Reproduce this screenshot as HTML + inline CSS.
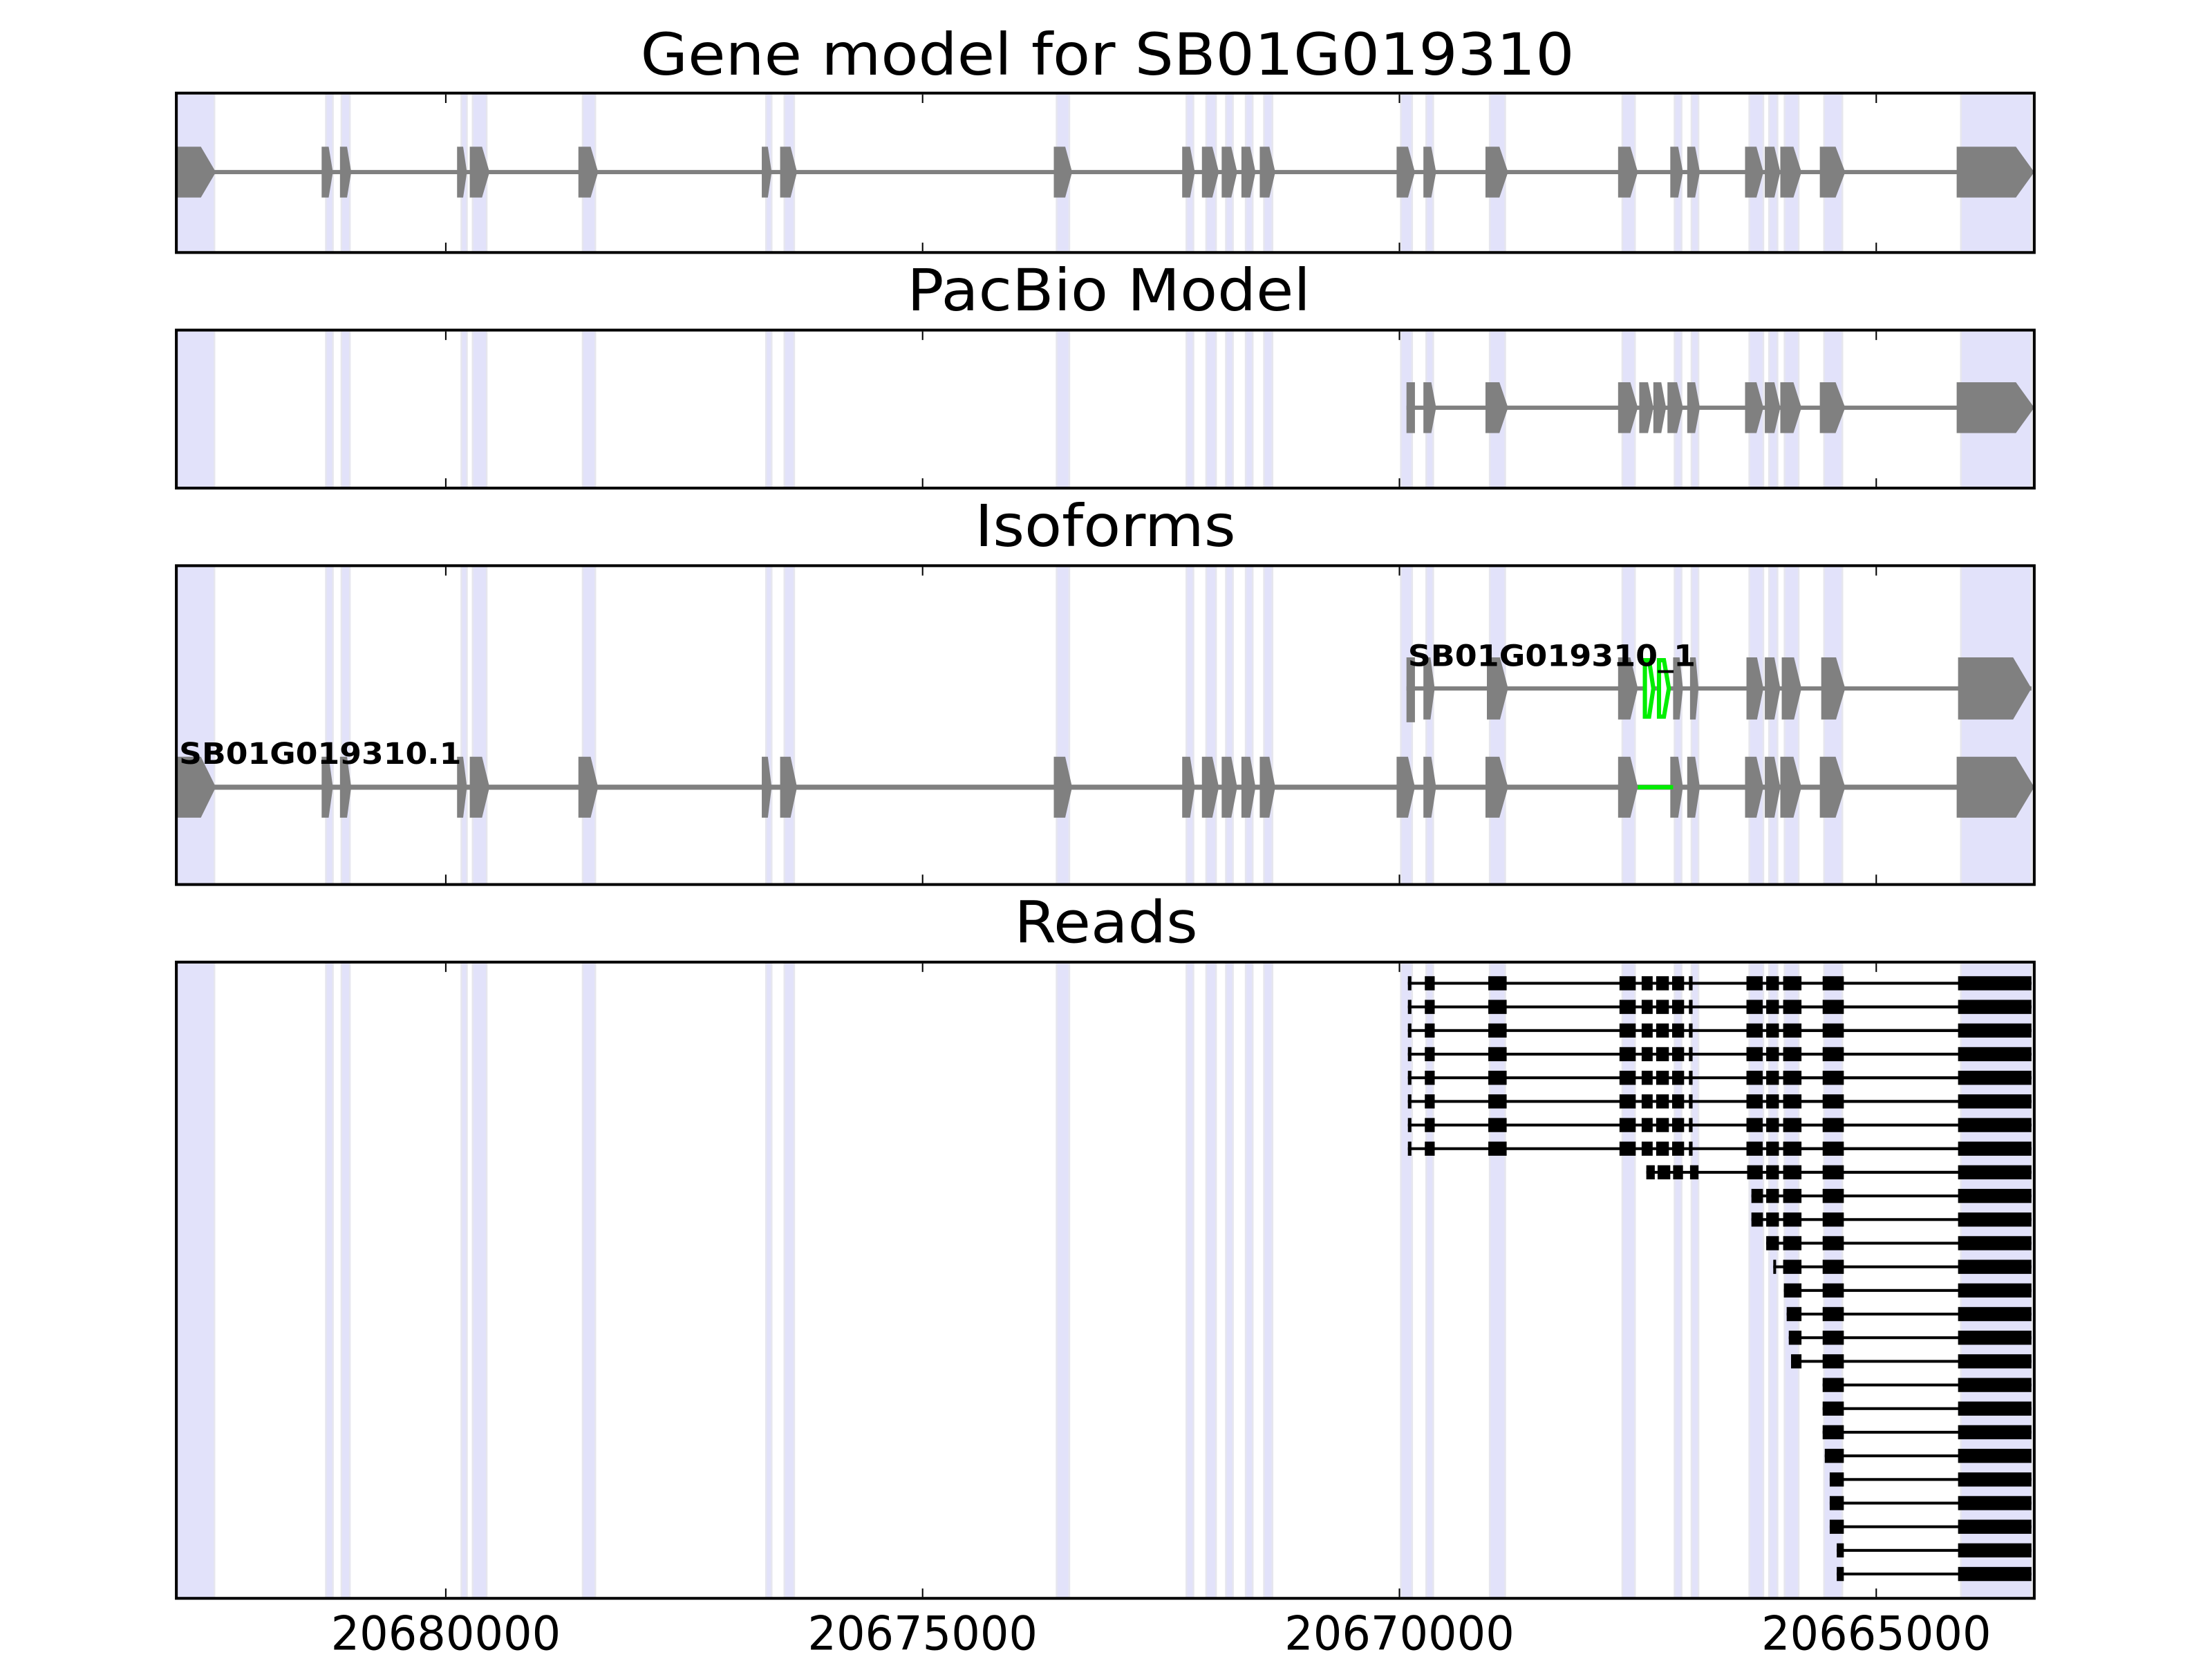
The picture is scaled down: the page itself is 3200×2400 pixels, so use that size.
<!DOCTYPE html>
<html><head><meta charset="utf-8"><style>
html,body{margin:0;padding:0;background:#fff;}
svg{display:block;}
text{font-family:"DejaVu Sans","Liberation Sans",sans-serif;fill:#000;}
</style></head><body>
<svg width="3200" height="2400" viewBox="0 0 1568 1176" xmlns="http://www.w3.org/2000/svg">
<defs>
<g id="bands" fill="#e2e2fa" stroke="#e6e6ee" stroke-width="1.2">
<rect x="125" y="0" width="27" height="1200"/>
<rect x="231" y="0" width="5" height="1200"/>
<rect x="242" y="0" width="6" height="1200"/>
<rect x="327" y="0" width="4" height="1200"/>
<rect x="335" y="0" width="10" height="1200"/>
<rect x="413" y="0" width="9" height="1200"/>
<rect x="543" y="0" width="4" height="1200"/>
<rect x="556" y="0" width="7" height="1200"/>
<rect x="749" y="0" width="9" height="1200"/>
<rect x="841" y="0" width="5" height="1200"/>
<rect x="855" y="0" width="7" height="1200"/>
<rect x="869" y="0" width="5" height="1200"/>
<rect x="883" y="0" width="5" height="1200"/>
<rect x="896" y="0" width="6" height="1200"/>
<rect x="993" y="0" width="8" height="1200"/>
<rect x="1011" y="0" width="5" height="1200"/>
<rect x="1056" y="0" width="11" height="1200"/>
<rect x="1150" y="0" width="9" height="1200"/>
<rect x="1187" y="0" width="5" height="1200"/>
<rect x="1199" y="0" width="5" height="1200"/>
<rect x="1240" y="0" width="10" height="1200"/>
<rect x="1254" y="0" width="6" height="1200"/>
<rect x="1265" y="0" width="10" height="1200"/>
<rect x="1293" y="0" width="13" height="1200"/>
<rect x="1390" y="0" width="50" height="1200"/>
</g>
<clipPath id="c1"><rect x="126" y="67" width="1315" height="111"/></clipPath>
<clipPath id="c2"><rect x="126" y="235" width="1315" height="110"/></clipPath>
<clipPath id="c3"><rect x="126" y="402" width="1315" height="224"/></clipPath>
<clipPath id="c4"><rect x="126" y="683" width="1315" height="449"/></clipPath>

<g id="gm">
<line x1="125" y1="0" x2="1442" y2="0" stroke="#808080" stroke-width="3"/>
<path fill="#808080" d="
M125 -18H142.4L153 0L142.4 18H125Z
M228 -18H233L236 0L233 18H228Z
M241 -18H246L249 0L246 18H241Z
M324 -18H328.3L331 0L328.3 18H324Z
M333 -18H341.7L347 0L341.7 18H333Z
M410 -18H418.7L424 0L418.7 18H410Z
M540 -18H544.3L547 0L544.3 18H540Z
M553 -18H560.4L565 0L560.4 18H553Z
M747 -18H755.1L760 0L755.1 18H747Z
M838 -18H843.6L847 0L843.6 18H838Z
M852 -18H859.4L864 0L859.4 18H852Z
M866 -18H872.8L877 0L872.8 18H866Z
M880 -18H886.2L890 0L886.2 18H880Z
M893 -18H899.8L904 0L899.8 18H893Z
M990 -18H998.1L1003 0L998.1 18H990Z
M1009 -18H1014.6L1018 0L1014.6 18H1009Z
M1053 -18H1062.9L1069 0L1062.9 18H1053Z
M1147 -18H1155.7L1161 0L1155.7 18H1147Z
M1184 -18H1189.6L1193 0L1189.6 18H1184Z
M1196 -18H1201.6L1205 0L1201.6 18H1196Z
M1237 -18H1245.1L1250 0L1245.1 18H1237Z
M1251 -18H1257.8L1262 0L1257.8 18H1251Z
M1262 -18H1271.3L1277 0L1271.3 18H1262Z
M1290 -18H1301.2L1308 0L1301.2 18H1290Z
M1387 -18H1429L1442 0L1429 18H1387Z"/>
</g>

<g id="tail">
<rect x="1292" y="-5" width="15" height="10"/>
<rect x="1388" y="-5" width="52" height="10"/>
<rect x="1292" y="-1" width="148" height="2"/>
</g>
<g id="mid">
<rect x="1252" y="-5" width="9" height="10"/>
<rect x="1264" y="-5" width="13" height="10"/>
<rect x="1252" y="-1" width="40" height="2"/>
</g>
<g id="full">
<rect x="998" y="-1" width="442" height="2"/>
<rect x="998" y="-5" width="2.5" height="10"/>
<rect x="1010" y="-5" width="7" height="10"/>
<rect x="1055" y="-5" width="13" height="10"/>
<rect x="1148" y="-5" width="11.5" height="10"/>
<rect x="1163.7" y="-5" width="7.8" height="10"/>
<rect x="1174" y="-5" width="9" height="10"/>
<rect x="1185.3" y="-5" width="8.5" height="10"/>
<rect x="1197.2" y="-5" width="2.6" height="10"/>
<rect x="1238" y="-5" width="11.5" height="10"/>
<use href="#mid"/>
<use href="#tail"/>
</g>
</defs>

<!-- Titles -->
<text x="785" y="53" font-size="41" text-anchor="middle" textLength="662" lengthAdjust="spacingAndGlyphs">Gene model for SB01G019310</text>
<text x="786" y="220" font-size="41" text-anchor="middle" textLength="286" lengthAdjust="spacingAndGlyphs">PacBio Model</text>
<text x="783.5" y="387" font-size="41" text-anchor="middle" textLength="185" lengthAdjust="spacingAndGlyphs">Isoforms</text>
<text x="784" y="668" font-size="41" text-anchor="middle" textLength="130" lengthAdjust="spacingAndGlyphs">Reads</text>

<!-- Panel 1 -->
<use href="#bands" clip-path="url(#c1)"/>
<use href="#gm" transform="translate(0,122)"/>

<!-- Panel 2 -->
<use href="#bands" clip-path="url(#c2)"/>
<g transform="translate(0,289)">
<line x1="997" y1="0" x2="1442" y2="0" stroke="#808080" stroke-width="3"/>
<path fill="#808080" d="
M997 -18H1003V18H997Z
M1009 -18H1014.6L1018 0L1014.6 18H1009Z
M1053 -18H1062.9L1069 0L1062.9 18H1053Z
M1147 -18H1155.7L1161 0L1155.7 18H1147Z
M1162 -18H1168.2L1172 0L1168.2 18H1162Z
M1172 -18H1177.6L1181 0L1177.6 18H1172Z
M1182 -18H1188.8L1193 0L1188.8 18H1182Z
M1196 -18H1201.6L1205 0L1201.6 18H1196Z
M1237 -18H1245.1L1250 0L1245.1 18H1237Z
M1251 -18H1257.8L1262 0L1257.8 18H1251Z
M1262 -18H1271.3L1277 0L1271.3 18H1262Z
M1290 -18H1301.2L1308 0L1301.2 18H1290Z
M1387 -18H1429L1442 0L1429 18H1387Z"/>
</g>

<!-- Panel 3 -->
<use href="#bands" clip-path="url(#c3)"/>
<g transform="translate(0,488)">
<line x1="997" y1="0" x2="1440" y2="0" stroke="#808080" stroke-width="3"/>
<path fill="#808080" d="
M997 -22H1003V24H997Z
M1009 -22H1014L1017 0L1014 22H1009Z
M1054 -22H1063.3L1069 0L1063.3 22H1054Z
M1147 -22H1155.7L1161 0L1155.7 22H1147Z
M1186 -22H1190.6L1193 0L1190.6 22H1186Z
M1198 -22H1202L1204 0L1202 22H1198Z
M1238 -22H1245.5L1250 0L1245.5 22H1238Z
M1251 -22H1257.8L1262 0L1257.8 22H1251Z
M1263 -22H1271.7L1277 0L1271.7 22H1263Z
M1291 -22H1301.5L1308 0L1301.5 22H1291Z
M1388 -22H1427L1440 0L1427 22H1388Z"/>
<path fill="#fff" stroke="#00ee00" stroke-width="3" d="M1166 -20H1169L1172 0L1169 20H1166Z M1176 -20H1179.5L1183 0L1179.5 20H1176Z"/>
</g>
<text x="998" y="472" font-size="21" font-weight="bold" textLength="204" lengthAdjust="spacingAndGlyphs">SB01G019310_1</text>
<use href="#gm" transform="translate(0,558) scale(1,1.2)"/>
<line x1="1161" y1="558" x2="1186" y2="558" stroke="#00ee00" stroke-width="3"/>
<text x="127" y="541.5" font-size="21" font-weight="bold" textLength="200" lengthAdjust="spacingAndGlyphs">SB01G019310.1</text>

<!-- Panel 4 -->
<use href="#bands" clip-path="url(#c4)"/>
<g fill="#000">
<use href="#full" transform="translate(0,697)"/>
<use href="#full" transform="translate(0,713.75)"/>
<use href="#full" transform="translate(0,730.5)"/>
<use href="#full" transform="translate(0,747.25)"/>
<use href="#full" transform="translate(0,764)"/>
<use href="#full" transform="translate(0,780.75)"/>
<use href="#full" transform="translate(0,797.5)"/>
<use href="#full" transform="translate(0,814.25)"/>
<g transform="translate(0,831)">
<rect x="1167" y="-1" width="273" height="2"/>
<rect x="1167" y="-5" width="6" height="10"/>
<rect x="1175" y="-5" width="9" height="10"/>
<rect x="1186" y="-5" width="7" height="10"/>
<rect x="1198" y="-5" width="6" height="10"/>
<rect x="1238.5" y="-5" width="11" height="10"/>
<use href="#mid"/><use href="#tail"/>
</g>
<g transform="translate(0,847.75)"><rect x="1241.5" y="-5" width="8.2" height="10"/><rect x="1241.5" y="-1" width="12" height="2"/><use href="#mid"/><use href="#tail"/></g>
<g transform="translate(0,864.5)"><rect x="1241.5" y="-5" width="8.2" height="10"/><rect x="1241.5" y="-1" width="12" height="2"/><use href="#mid"/><use href="#tail"/></g>
<g transform="translate(0,881.25)"><use href="#mid"/><use href="#tail"/></g>
<g transform="translate(0,898)"><rect x="1257" y="-5" width="2" height="10"/><rect x="1257" y="-1" width="35" height="2"/><rect x="1264" y="-5" width="13" height="10"/><use href="#tail"/></g>
<g transform="translate(0,914.75)"><rect x="1264.5" y="-5" width="12.5" height="10"/><rect x="1264.5" y="-1" width="28" height="2"/><use href="#tail"/></g>
<g transform="translate(0,931.5)"><rect x="1266.5" y="-5" width="10.5" height="10"/><rect x="1266.5" y="-1" width="26" height="2"/><use href="#tail"/></g>
<g transform="translate(0,948.25)"><rect x="1268" y="-5" width="9" height="10"/><rect x="1268" y="-1" width="24" height="2"/><use href="#tail"/></g>
<g transform="translate(0,965)"><rect x="1269.6" y="-5" width="7.4" height="10"/><rect x="1269.6" y="-1" width="23" height="2"/><use href="#tail"/></g>
<use href="#tail" transform="translate(0,981.75)"/>
<use href="#tail" transform="translate(0,998.5)"/>
<use href="#tail" transform="translate(0,1015.25)"/>
<g transform="translate(0,1032)"><rect x="1293.5" y="-5" width="13.5" height="10"/><rect x="1388" y="-5" width="52" height="10"/><rect x="1293.5" y="-1" width="146" height="2"/></g>
<g transform="translate(0,1048.75)"><rect x="1297" y="-5" width="10" height="10"/><rect x="1388" y="-5" width="52" height="10"/><rect x="1297" y="-1" width="143" height="2"/></g>
<g transform="translate(0,1065.5)"><rect x="1297" y="-5" width="10" height="10"/><rect x="1388" y="-5" width="52" height="10"/><rect x="1297" y="-1" width="143" height="2"/></g>
<g transform="translate(0,1082.25)"><rect x="1297" y="-5" width="10" height="10"/><rect x="1388" y="-5" width="52" height="10"/><rect x="1297" y="-1" width="143" height="2"/></g>
<g transform="translate(0,1099)"><rect x="1302" y="-5" width="5" height="10"/><rect x="1388" y="-5" width="52" height="10"/><rect x="1302" y="-1" width="138" height="2"/></g>
<g transform="translate(0,1115.75)"><rect x="1302" y="-5" width="5" height="10"/><rect x="1388" y="-5" width="52" height="10"/><rect x="1302" y="-1" width="138" height="2"/></g>
</g>

<!-- Axes frames and ticks -->
<g fill="none" stroke="#000" stroke-width="2">
<rect x="125" y="66" width="1317" height="113"/>
<rect x="125" y="234" width="1317" height="112"/>
<rect x="125" y="401" width="1317" height="226"/>
<rect x="125" y="682" width="1317" height="451"/>
</g>
<g stroke="#000" stroke-width="1">
<path d="M316 67v6M654 67v6M992 67v6M1330 67v6M316 178v-6M654 178v-6M992 178v-6M1330 178v-6"/>
<path d="M316 235v6M654 235v6M992 235v6M1330 235v6M316 345v-6M654 345v-6M992 345v-6M1330 345v-6"/>
<path d="M316 402v6M654 402v6M992 402v6M1330 402v6M316 626v-6M654 626v-6M992 626v-6M1330 626v-6"/>
<path d="M316 683v6M654 683v6M992 683v6M1330 683v6M316 1132v-6M654 1132v-6M992 1132v-6M1330 1132v-6"/>
</g>
<g font-size="33" text-anchor="middle">
<text x="316" y="1169.5" textLength="163" lengthAdjust="spacingAndGlyphs">20680000</text>
<text x="654" y="1169.5" textLength="163" lengthAdjust="spacingAndGlyphs">20675000</text>
<text x="992" y="1169.5" textLength="163" lengthAdjust="spacingAndGlyphs">20670000</text>
<text x="1330" y="1169.5" textLength="163" lengthAdjust="spacingAndGlyphs">20665000</text>
</g>
</svg>
</body></html>
